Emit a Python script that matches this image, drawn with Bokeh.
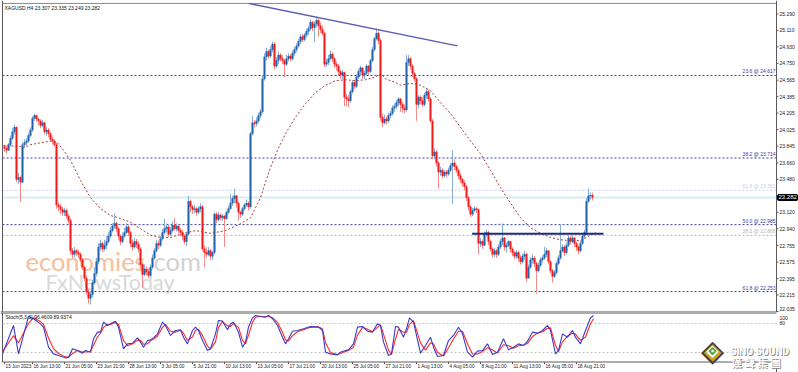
from bokeh.plotting import figure
from bokeh.models import Range1d, Span, Label, ColumnDataSource
from bokeh.layouts import column
from bokeh.embed import file_html
from bokeh.resources import INLINE
from bokeh.core.properties import value

# ---------------- data ----------------
header_text = "XAGUSD,H4  23.307 23.335 23.249 23.282"
stoch_text = "Stoch(5,3,3) 96.4609 89.9374"

first_open = 23.84
closes = [
    23.82, 23.80, 23.86, 23.93, 24.00, 24.05, 23.48, 23.50, 23.45, 23.86,
    23.88, 23.90, 23.96, 24.02, 24.15, 24.18, 24.14, 24.12, 24.07, 24.10,
    24.00, 24.02, 23.98, 23.92, 23.90, 23.86, 23.20, 23.18, 23.15, 23.12,
    23.14, 23.08, 23.03, 22.70, 22.66, 22.70, 22.68, 22.66, 22.60, 22.52,
    22.40, 22.25, 22.18, 22.22, 22.35, 22.45, 22.58, 22.74, 22.78, 22.72,
    22.76, 22.80, 22.86, 22.92, 22.97, 23.00, 22.94, 22.86, 22.80, 22.86,
    22.90, 22.96, 22.90, 22.78, 22.74, 22.80, 22.77, 22.72, 22.55, 22.44,
    22.50, 22.47, 22.43, 22.52, 22.62, 22.70, 22.78, 22.76, 22.83, 22.90,
    22.94, 22.96, 22.88, 22.92, 22.98, 22.94, 22.97, 22.92, 22.90, 22.86,
    22.80, 22.88, 23.24, 23.18, 23.15, 23.16, 23.12, 23.16, 23.18, 22.72,
    22.68, 22.66, 22.70, 22.64, 22.68, 23.10, 23.04, 23.09, 23.06, 23.08,
    23.05, 23.12, 23.16, 23.22, 23.27, 23.30, 23.22, 23.12, 23.10, 23.16,
    23.20, 23.22, 23.18, 23.98, 24.10, 24.09, 24.12, 24.18, 24.22, 24.58,
    24.82, 24.88, 24.83, 24.90, 24.96, 24.72, 24.78, 24.84, 24.80, 24.78,
    24.74, 24.80, 24.83, 24.80, 24.86, 24.90, 24.94, 24.99, 25.04, 25.01,
    25.06, 25.10, 25.13, 25.20, 25.14, 25.18, 25.22, 25.16, 25.12, 25.08,
    24.74, 24.76, 24.80, 24.85, 24.80, 24.74, 24.72, 24.66, 24.62, 24.65,
    24.38, 24.36, 24.34, 24.44, 24.54, 24.50, 24.60, 24.66, 24.70, 24.62,
    24.64, 24.72, 24.66, 24.78, 24.90, 25.02, 25.08, 25.00, 24.16, 24.10,
    24.14, 24.12, 24.18, 24.20, 24.26, 24.28, 24.32, 24.36, 24.30, 24.26,
    24.24, 24.76, 24.80, 24.72, 24.64, 24.58, 24.30, 24.38, 24.34, 24.30,
    24.40, 24.44, 24.36, 24.12, 23.74, 23.78, 23.66, 23.56, 23.58, 23.52,
    23.56, 23.54, 23.58, 23.63, 23.66, 23.62, 23.58, 23.52, 23.48, 23.44,
    23.40, 23.28, 23.18, 23.10, 23.14, 23.16, 23.15, 22.78, 22.80, 22.76,
    22.88, 22.90, 22.80, 22.72, 22.66, 22.70, 22.66, 22.74, 22.80, 22.84,
    22.74, 22.76, 22.80, 22.72, 22.68, 22.64, 22.68, 22.62, 22.58, 22.64,
    22.66, 22.40, 22.52, 22.60, 22.62, 22.56, 22.48, 22.54, 22.60, 22.62,
    22.66, 22.70, 22.58, 22.48, 22.42, 22.46, 22.56, 22.62, 22.70, 22.74,
    22.68, 22.76, 22.84, 22.80, 22.84, 22.78, 22.74, 22.70, 22.78, 22.86,
    22.90, 23.24, 23.30, 23.307, 23.282,
]
highs = [
    23.86, 23.85, 23.88, 23.96, 24.04, 24.08, 24.06, 23.55, 23.52, 23.89,
    23.92, 23.93, 23.99, 24.05, 24.17, 24.20, 24.19, 24.16, 24.14, 24.13,
    24.11, 24.05, 24.04, 24.00, 23.95, 23.92, 23.88, 23.23, 23.21, 23.18,
    23.17, 23.16, 23.10, 23.06, 22.73, 22.74, 22.72, 22.71, 22.68, 22.62,
    22.54, 22.43, 22.28, 22.26, 22.38, 22.52, 22.62, 22.78, 22.82, 22.80,
    22.82, 22.86, 22.90, 22.96, 23.00, 23.11, 23.02, 22.96, 22.88, 22.90,
    22.95, 23.00, 22.98, 22.92, 22.82, 22.84, 22.83, 22.80, 22.74, 22.58,
    22.55, 22.53, 22.50, 22.55, 22.66, 22.73, 22.82, 22.81, 22.86, 22.94,
    23.05, 23.00, 22.98, 22.96, 23.02, 23.06, 23.00, 22.98, 22.95, 22.93,
    22.88, 22.91, 23.30, 23.26, 23.20, 23.20, 23.18, 23.19, 23.22, 23.20,
    22.76, 22.74, 22.74, 22.72, 22.70, 23.12, 23.12, 23.12, 23.11, 23.10,
    23.09, 23.14, 23.19, 23.32, 23.30, 23.38, 23.31, 23.24, 23.14, 23.18,
    23.22, 23.26, 23.24, 24.00, 24.18, 24.13, 24.16, 24.21, 24.25, 24.62,
    24.86, 24.92, 24.90, 24.94, 24.99, 24.98, 24.82, 24.88, 24.86, 24.84,
    24.80, 24.84, 24.86, 24.85, 24.89, 24.93, 24.97, 25.02, 25.07, 25.07,
    25.08, 25.13, 25.16, 25.23, 25.21, 25.21, 25.26, 25.24, 25.20, 25.16,
    25.10, 24.80, 24.84, 24.89, 24.87, 24.82, 24.77, 24.74, 24.68, 24.68,
    24.66, 24.42, 24.40, 24.46, 24.56, 24.57, 24.63, 24.69, 24.72, 24.70,
    24.67, 24.74, 24.73, 24.80, 24.93, 25.04, 25.13, 25.10, 25.02, 24.20,
    24.19, 24.17, 24.21, 24.23, 24.29, 24.31, 24.35, 24.38, 24.37, 24.33,
    24.30, 24.84, 24.84, 24.82, 24.74, 24.66, 24.60, 24.40, 24.40, 24.38,
    24.43, 24.47, 24.46, 24.38, 24.14, 23.82, 23.80, 23.68, 23.62, 23.60,
    23.58, 23.58, 23.61, 23.66, 23.80, 23.70, 23.64, 23.60, 23.55, 23.50,
    23.47, 23.42, 23.30, 23.20, 23.17, 23.19, 23.18, 23.16, 22.84, 22.82,
    22.91, 22.93, 22.92, 22.82, 22.74, 22.73, 22.72, 22.77, 22.83, 23.00,
    22.85, 22.79, 22.82, 22.81, 22.74, 22.70, 22.71, 22.70, 22.65, 22.67,
    22.70, 22.68, 22.55, 22.63, 22.66, 22.64, 22.58, 22.57, 22.63, 22.65,
    22.74, 22.73, 22.70, 22.60, 22.50, 22.49, 22.59, 22.65, 22.99, 22.77,
    22.76, 22.79, 22.87, 22.86, 22.87, 22.85, 22.80, 22.76, 22.81, 22.89,
    22.93, 23.28, 23.38, 23.34, 23.335,
]
lows = [
    23.78, 23.76, 23.79, 23.84, 23.91, 23.97, 23.45, 23.43, 23.23, 23.44,
    23.83, 23.85, 23.88, 23.94, 24.00, 24.12, 24.11, 24.07, 24.04, 24.05,
    23.97, 23.96, 23.94, 23.89, 23.86, 23.84, 23.16, 23.13, 23.10, 23.08,
    23.08, 23.05, 23.00, 22.66, 22.62, 22.63, 22.64, 22.62, 22.57, 22.49,
    22.37, 22.22, 22.12, 22.11, 22.19, 22.33, 22.42, 22.55, 22.70, 22.68,
    22.70, 22.72, 22.78, 22.84, 22.90, 22.94, 22.90, 22.82, 22.76, 22.78,
    22.84, 22.88, 22.86, 22.74, 22.70, 22.72, 22.73, 22.68, 22.50, 22.29,
    22.42, 22.43, 22.40, 22.41, 22.50, 22.60, 22.68, 22.72, 22.74, 22.81,
    22.88, 22.90, 22.85, 22.86, 22.90, 22.92, 22.91, 22.89, 22.86, 22.82,
    22.77, 22.75, 22.86, 23.12, 23.10, 23.11, 23.08, 23.10, 23.12, 22.70,
    22.52, 22.62, 22.64, 22.60, 22.60, 22.66, 23.00, 23.02, 23.03, 23.03,
    22.74, 23.04, 23.10, 23.15, 23.19, 23.22, 23.17, 23.03, 23.06, 23.08,
    23.14, 23.18, 23.14, 23.16, 23.96, 24.05, 24.06, 24.10, 24.15, 24.20,
    24.56, 24.78, 24.80, 24.81, 24.87, 24.68, 24.70, 24.74, 24.77, 24.74,
    24.60, 24.72, 24.77, 24.77, 24.78, 24.83, 24.87, 24.92, 24.96, 24.98,
    24.99, 25.03, 25.06, 25.11, 25.10, 24.98, 25.14, 25.04, 25.08, 25.05,
    24.71, 24.71, 24.73, 24.78, 24.76, 24.70, 24.67, 24.62, 24.58, 24.58,
    24.28, 24.28, 24.27, 24.32, 24.42, 24.47, 24.48, 24.58, 24.62, 24.58,
    24.58, 24.62, 24.62, 24.64, 24.76, 24.88, 25.00, 24.96, 24.12, 24.05,
    24.08, 24.08, 24.10, 24.15, 24.18, 24.22, 24.25, 24.28, 24.22, 24.21,
    24.20, 24.22, 24.72, 24.68, 24.60, 24.55, 24.12, 24.26, 24.30, 24.27,
    24.28, 24.36, 24.33, 24.10, 23.70, 23.70, 23.62, 23.38, 23.52, 23.49,
    23.50, 23.50, 23.52, 23.56, 23.21, 23.58, 23.55, 23.48, 23.44, 23.40,
    23.36, 23.24, 23.14, 23.07, 23.08, 23.12, 23.11, 22.66, 22.74, 22.72,
    22.75, 22.85, 22.76, 22.69, 22.62, 22.63, 22.62, 22.64, 22.72, 22.76,
    22.70, 22.68, 22.74, 22.68, 22.64, 22.61, 22.61, 22.58, 22.55, 22.56,
    22.60, 22.36, 22.40, 22.50, 22.56, 22.52, 22.23, 22.46, 22.52, 22.57,
    22.60, 22.63, 22.55, 22.45, 22.35, 22.40, 22.44, 22.54, 22.60, 22.68,
    22.64, 22.66, 22.74, 22.77, 22.78, 22.74, 22.70, 22.66, 22.68, 22.76,
    22.84, 22.88, 23.22, 23.26, 23.249,
]

# moving average, by bar index
ma_idx = [-0.5, 8, 9, 13, 18, 23, 26.5, 29.5, 33, 38, 43, 48, 53, 57, 63, 68, 73, 78, 83, 88,
          95.5, 103, 110.5, 118, 123, 125.5, 128, 130.5, 133, 136.5, 140.5, 145.5, 150.5, 155.5,
          160.5, 165.5, 170.5, 175.5, 180.5, 185.5, 188, 190.5, 195.5, 198, 203, 208, 213, 218,
          223, 228, 233, 238, 243, 248, 253, 258, 263, 268, 273, 278, 283, 288, 293, 295.5]
ma_vals = [23.85, 23.84, 23.82, 23.86, 23.88, 23.90, 23.88, 23.80, 23.69, 23.47, 23.28, 23.16, 23.085, 23.06,
           23.01, 22.94, 22.87, 22.845, 22.845, 22.88, 22.92, 22.89, 22.92, 22.995, 23.06, 23.17, 23.28,
           23.45, 23.61, 23.80, 23.98, 24.16, 24.31, 24.43, 24.51, 24.56, 24.57, 24.56, 24.57, 24.60,
           24.64, 24.58, 24.54, 24.51, 24.53, 24.51, 24.45, 24.32, 24.20, 24.05, 23.90, 23.76, 23.58,
           23.39, 23.22, 23.06, 22.95, 22.89, 22.845, 22.82, 22.81, 22.81, 22.87, 22.90]

# stochastic (5,3,3): main (blue) and signal (red)
stoch_idx = [-1, 4.5, 7, 12, 14.5, 18, 19.5, 22, 24.5, 27, 30.5, 32, 34, 36.5, 39, 40.5, 43, 44.5,
             46.5, 48, 49.5, 51.5, 53, 55.5, 57, 59.5, 61.5, 64, 66.5, 68, 69.5, 71.5, 73, 74.5, 76.5,
             79, 80.5, 83, 85.5, 88, 89.5, 91.5, 94, 95.5, 97, 99, 101.5, 103, 105.5, 107, 109, 111.5,
             113, 114.5, 117, 119, 120.5, 122, 124, 125.5, 128, 130.5, 132, 134, 136.5, 139, 140.5,
             142, 144, 146.5, 149.5, 153, 157, 159, 160.5, 163, 166.5, 168, 170.5, 172, 174.5, 176.5,
             179, 181.5, 184, 186.5, 188, 189.5, 192, 193.5, 195.5, 197, 199.5, 201, 202.5, 204.5,
             208, 210.5, 213, 214.5, 216.5, 219.5, 222, 224.5, 227, 229, 231.5, 234, 236.5, 239,
             241.5, 244, 246.5, 249.5, 252, 254.5, 257, 259.5, 261.5, 264, 266.5, 269, 271.5, 273,
             275.5, 277, 279, 281.5, 284, 285.5, 288, 290.5, 293, 294.5]
stoch_k = [17.2, 75.9, 17.2, 94.5, 89.7, 79.3, 72.4, 31.0, 17.2, 13.8, 9.0, 10.3, 27.6, 24.1, 18.6,
           24.1, 20.7, 48.3, 62.1, 62.1, 82.8, 75.9, 79.3, 84.8, 72.4, 27.6, 37.9, 39.3, 50.3, 41.4,
           31.0, 44.8, 46.2, 50.3, 58.6, 82.8, 75.9, 55.2, 65.5, 66.9, 51.7, 37.9, 65.5, 72.4, 65.5,
           44.8, 24.1, 27.6, 58.6, 86.2, 84.8, 66.9, 79.3, 82.8, 62.1, 31.0, 41.4, 72.4, 91.7, 96.6,
           94.5, 93.1, 96.6, 89.7, 75.9, 51.7, 37.9, 48.3, 64.1, 65.5, 69.0, 73.8, 72.4, 65.5, 20.7,
           17.2, 15.2, 20.7, 24.1, 25.5, 37.9, 72.4, 73.8, 64.1, 62.1, 79.3, 75.9, 41.4, 13.8, 17.2,
           73.8, 72.4, 51.7, 69.0, 91.7, 82.8, 18.6, 34.5, 51.7, 31.0, 11.7, 13.8, 44.8, 55.2, 72.4,
           58.6, 20.7, 10.3, 22.8, 24.1, 37.9, 15.9, 20.7, 48.3, 25.5, 31.0, 37.9, 34.5, 43.4, 62.1,
           60.0, 65.5, 75.9, 65.5, 17.2, 24.1, 58.6, 51.7, 65.5, 51.7, 37.9, 65.5, 91.7, 96.5]
stoch_d = [22, 55, 40, 80, 92, 84, 78, 50, 28, 18, 11, 10, 18, 24, 21, 21, 22, 35, 52, 60, 72, 78,
           78, 82, 78, 45, 34, 38, 45, 45, 37, 38, 44, 48, 54, 72, 78, 64, 62, 66, 60, 45, 52, 66,
           68, 55, 33, 27, 42, 72, 84, 75, 74, 80, 72, 45, 38, 56, 82, 93, 95, 94, 95, 92, 82, 62,
           46, 44, 55, 63, 67, 72, 73, 69, 40, 20, 16, 18, 22, 24, 31, 56, 72, 68, 63, 72, 77, 58,
           25, 16, 48, 68, 62, 62, 78, 86, 40, 25, 40, 38, 20, 13, 30, 48, 64, 64, 38, 17, 17, 22,
           30, 25, 19, 36, 34, 29, 34, 35, 39, 53, 60, 63, 70, 71, 35, 22, 42, 54, 60, 58, 45, 52,
           80, 89.9]

# price-axis ticks and time-axis ticks
ytick_values = [22.035, 22.215, 22.395, 22.575, 22.755, 22.940, 23.120, 23.480, 23.660, 23.845,
                24.025, 24.205, 24.385, 24.565, 24.750, 24.930, 25.110, 25.290]
ytick_labels = ["22.035", "22.215", "22.395", "22.575", "22.755", "22.940", "23.120", "23.480", "23.660",
                "23.845", "24.025", "24.205", "24.385", "24.565", "24.750", "24.930", "25.110", "25.290"]
stoch_tick_values = [92, 80]
stoch_tick_labels = ["100", "80"]
xtick_idx = [0, 14, 30, 46, 62, 78, 94, 110, 126, 142, 158, 174, 190, 206, 222, 238, 254, 270, 286]
xtick_labels = ["13 Jun 2023", "16 Jun 13:00", "21 Jun 05:00", "23 Jun 21:00", "28 Jun 13:00",
                "3 Jul 05:00", "5 Jul 21:00", "10 Jul 13:00", "13 Jul 05:00", "17 Jul 21:00",
                "20 Jul 13:00", "25 Jul 05:00", "27 Jul 21:00", "1 Aug 13:00", "4 Aug 05:00",
                "8 Aug 21:00", "11 Aug 13:00", "16 Aug 05:00", "18 Aug 21:00"]

# Fibonacci levels
fib_labels = ["23.6 @ 24.617", "38.2 @ 23.714", "61.8 @ 23.361", "50.0 @ 22.985", "38.2 @ 22.868", "61.8 @ 22.253"]
fib_prices = [24.617, 23.714, 23.361, 22.985, 22.868, 22.253]
fib_kind = ["main", "main", "faint", "main", "grey", "main"]
last_price = 23.282
last_price_text = "23.282"

trend_x = [122, 226.5]
trend_y = [25.405, 24.94]
neck_x = [233.8, 299.5]
neck_y = [22.885, 22.885]

# ---------------- geometry of the two panes (bar index / price) ----------------
X0, X1 = -2, 397          # full window width
XL, XR = -1, 386          # left border, price-scale border
Y_TOP_LINE = 25.405
AX = "#5a5a5a"
FONT = "Liberation Sans"

n = len(closes)
idx = list(range(n))
opens = [first_open] + closes[:-1]


def make_src(sel):
    return ColumnDataSource(dict(
        x=sel,
        high=[highs[k] for k in sel],
        low=[lows[k] for k in sel],
        top=[max(opens[k], closes[k]) for k in sel],
        bottom=[min(opens[k], closes[k]) for k in sel],
    ))


up_src = make_src([k for k in idx if closes[k] >= opens[k]])
dn_src = make_src([k for k in idx if closes[k] < opens[k]])

p = figure(frame_width=798, frame_height=312, x_range=Range1d(X0, X1), y_range=Range1d(22.024, 25.437),
           output_backend="svg", toolbar_location=None, x_axis_location=None, y_axis_location=None,
           min_border_left=0, min_border_right=0, min_border_top=0, min_border_bottom=0)
p.grid.visible = False
p.outline_line_color = None
p.background_fill_color = "white"
p.border_fill_color = "white"

# watermarks (behind candles)
p.add_layout(Label(x=10.5, y=22.582, text="economies", text_font="Lato", text_font_size="25.5px",
                   text_baseline="alphabetic", text_color="#f8c09a", level="underlay"))
p.add_layout(Label(x=71.5, y=22.582, text=".com", text_font="Lato", text_font_size="25.5px",
                   text_baseline="alphabetic", text_color="#d2d2d2", level="underlay"))
p.add_layout(Label(x=20.5, y=22.363, text="FxNewsToday", text_font="Lato", text_font_size="21.5px",
                   text_baseline="alphabetic", text_color="#d8d8d8", level="underlay"))

# frame borders
p.add_layout(Span(location=XL, dimension="height", line_color=AX, line_width=1))
p.add_layout(Span(location=XR, dimension="height", line_color=AX, line_width=1))
p.segment(x0=[XL], y0=[Y_TOP_LINE], x1=[XR], y1=[Y_TOP_LINE], line_color="#8a8a8a", line_width=1)
p.segment(x0=[X0], y0=[22.024], x1=[XR], y1=[22.024], line_color=AX, line_width=2)

# fib / reference lines
fib_col = {"main": "#3a3aa6", "grey": "#b4b4b4", "faint": "#c9cdea"}
p.segment(x0=[XL], y0=[last_price], x1=[XR], y1=[last_price], line_color="#d6edf0", line_width=2)
for lab, pr, kd in zip(fib_labels, fib_prices, fib_kind):
    p.segment(x0=[XL], y0=[pr], x1=[XR], y1=[pr], line_color=fib_col[kd], line_width=1, line_dash="2 2")
    p.add_layout(Label(x=XR - 0.5, y=pr, text=lab, text_align="right", text_baseline="bottom",
                       y_offset=1, text_font=FONT, text_font_size="5px", text_color=fib_col[kd]))

# candles
p.segment(x0="x", y0="low", x1="x", y1="high", source=up_src, line_color="#88aed6", line_width=1)
p.segment(x0="x", y0="low", x1="x", y1="high", source=dn_src, line_color="#f58a8a", line_width=1)
p.vbar(x="x", width=0.75, top="top", bottom="bottom", source=up_src, fill_color="#2463aa",
       line_color="#2463aa", line_width=0.5)
p.vbar(x="x", width=0.75, top="top", bottom="bottom", source=dn_src, fill_color="#f21c1c",
       line_color="#f21c1c", line_width=0.5)

# moving average
p.line(ma_idx, ma_vals, line_color="#a83a3a", line_width=1, line_dash="2 2")

# trend line and neckline
p.line(trend_x, trend_y, line_color="#5a5ab8", line_width=1.4)
p.line(neck_x, neck_y, line_color="#1f2a7a", line_width=2)

# price scale (ticks + labels); the lowest label sits just above the pane edge
p.segment(x0=[XR] * len(ytick_values), y0=ytick_values, x1=[XR + 1] * len(ytick_values), y1=ytick_values,
          line_color=AX, line_width=1)
p.text(x=[XR + 1.5] * len(ytick_values), y=ytick_values, text=ytick_labels, text_font=value(FONT),
       text_font_size=value("5px"), text_color="#222222", text_align="left", text_baseline="middle",
       y_offset=[-2 if v == min(ytick_values) else 0 for v in ytick_values])

p.add_layout(Label(x=XL, y=Y_TOP_LINE, text=header_text, text_align="left", text_baseline="top",
                   x_offset=2, y_offset=-2, text_font=FONT, text_font_size="5px", text_color="#111111"))
p.add_layout(Label(x=XR, y=last_price, text=last_price_text, text_align="left", text_baseline="middle",
                   x_offset=2, text_font=FONT, text_font_size="6px", text_color="white",
                   background_fill_color="black", border_line_color="black", border_line_width=3))

# ---------------- stochastic panel (includes the time scale) ----------------
s = figure(frame_width=798, frame_height=60, x_range=p.x_range, y_range=Range1d(-21.3, 102.7),
           output_backend="svg", toolbar_location=None, x_axis_location=None, y_axis_location=None,
           min_border_left=0, min_border_right=0, min_border_top=0, min_border_bottom=0)
s.grid.visible = False
s.outline_line_color = None
s.background_fill_color = "white"
s.border_fill_color = "white"

s.segment(x0=[X0], y0=[102.7], x1=[XR], y1=[102.7], line_color=AX, line_width=2)
s.segment(x0=[XL], y0=[0.4], x1=[XR], y1=[0.4], line_color=AX, line_width=1)
s.segment(x0=[XL, XR], y0=[0.4, 0.4], x1=[XL, XR], y1=[102.7, -21.3], line_color=AX, line_width=1)

for lvl in (80, 20):
    s.segment(x0=[XL], y0=[lvl], x1=[XR], y1=[lvl], line_color="#c4c4c4", line_width=1, line_dash="2 2")

s.line(stoch_idx, stoch_d, line_color="#ff2a2a", line_width=1.1)
s.line(stoch_idx, stoch_k, line_color="#3a3ac4", line_width=1.1)

s.add_layout(Label(x=XL, y=99, text=stoch_text, text_align="left", text_baseline="top",
                   x_offset=3, text_font=FONT, text_font_size="5px", text_color="#111111"))
s.text(x=[XR + 1.5] * len(stoch_tick_values), y=stoch_tick_values, text=stoch_tick_labels,
       text_font=value(FONT), text_font_size=value("5px"), text_color="#222222",
       text_align="left", text_baseline="middle")

# time scale
s.segment(x0=xtick_idx, y0=[0.4] * len(xtick_idx), x1=xtick_idx, y1=[-4] * len(xtick_idx),
          line_color=AX, line_width=1)
s.text(x=[t + 0.5 for t in xtick_idx], y=[-9.9] * len(xtick_idx), text=xtick_labels,
       text_font=value(FONT), text_font_size=value("4.7px"), text_color="#222222",
       text_align="left", text_baseline="middle")

# SINO SOUND watermark
for size, col in (("30px", "#3f3f3f"), ("23px", "#c9a227"), ("16px", "#ffffff"), ("11px", "#55a04a"), ("4px", "#ffffff")):
    s.add_layout(Label(x=354, y=24, text="\u25c6", text_align="center", text_baseline="middle",
                       text_font="DejaVu Sans", text_font_size=size, text_color=col))
for dx, dy, col in ((1, -1, "#8c8c8c"), (0, 0, "#ffffff")):
    s.add_layout(Label(x=363, y=22, text="SiNO SOUND", text_align="left", text_baseline="alphabetic",
                       x_offset=dx, y_offset=dy, text_font="Roboto", text_font_style="bold",
                       text_font_size="10px", text_color=col))
    s.add_layout(Label(x=363.5, y=-1.5, text="\u6f22 \u8072 \u96c6 \u5718", text_align="left",
                       text_baseline="alphabetic", x_offset=dx, y_offset=dy, text_font="Noto Sans CJK TC",
                       text_font_style="bold", text_font_size="10.5px", text_color=col))

layout = column(p, s)
open("out.html", "w").write(file_html(layout, INLINE))
